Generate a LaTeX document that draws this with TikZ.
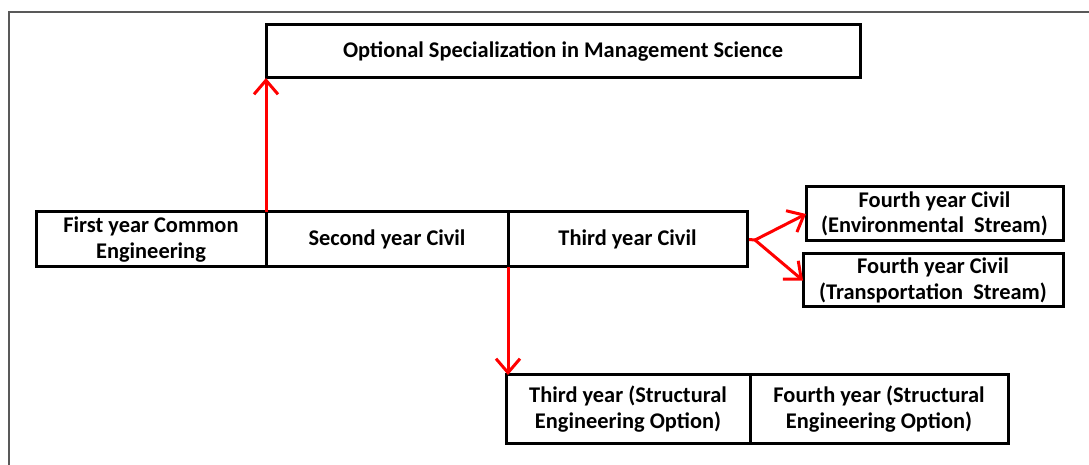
\documentclass[tikz,border=0pt]{standalone}
\usepackage{fontspec}
\setmainfont{Carlito}
\usetikzlibrary{arrows.meta}

\begin{document}
\begin{tikzpicture}[x=0.5pt, y=-0.5pt,
every node/.style={font=\fontsize{11.2}{12.6}\selectfont\bfseries, align=center,
    inner sep=1pt, outer sep=0pt
    },
yearbox/.style={draw, line width=1.5pt, minimum height=27.5pt},
flow/.style={draw=red, line width=1.5pt, -{Straight Barb[length=7pt,width=12pt,line width=1.5pt]}}
]
\useasboundingbox (0,0) rectangle (1089,465);
\draw[gray!70!black, line width=1pt] (9,470) -- (9,12) -- (1095,12);

\node[yearbox, minimum width=297pt, minimum height=26.5pt] (mgmt) at (563,51.5) {Optional Specialization in Management Science};

\node[yearbox, minimum width=115pt] (first) at (151,239.5) {First year Common\\Engineering};
\node[yearbox, minimum width=121pt] (second) at (387,239.5) {Second year Civil};
\node[yearbox, minimum width=119.5pt] (third) at (627.5,239.5) {Third year Civil};

\node[yearbox, minimum width=128.5pt, minimum height=27pt] (env) at (934.5,214) {Fourth year Civil\\(Environmental~ Stream)};
\node[yearbox, minimum width=130pt, minimum height=26.5pt] (trans) at (933,280.5) {Fourth year Civil\\(Transportation~ Stream)};

\node[yearbox, minimum width=122pt, minimum height=34pt] (sthird) at (628,409) {Third year (Structural\\Engineering Option)};
\node[yearbox, minimum width=129pt, minimum height=34pt] (sfourth) at (879,409) {Fourth year (Structural\\Engineering Option)};

\coordinate (split) at (755,240);

\draw[flow] (first.north east) -- (mgmt.south west);
\draw[flow] (third.south west) -- (third.south west |- sthird.north);
\foreach \j in {env,trans}
    \draw[flow] (split) -- (\j.west);
\draw[red, line width=1.5pt] (third.east) ++(2,0) -- (split);
\end{tikzpicture}
\end{document}
